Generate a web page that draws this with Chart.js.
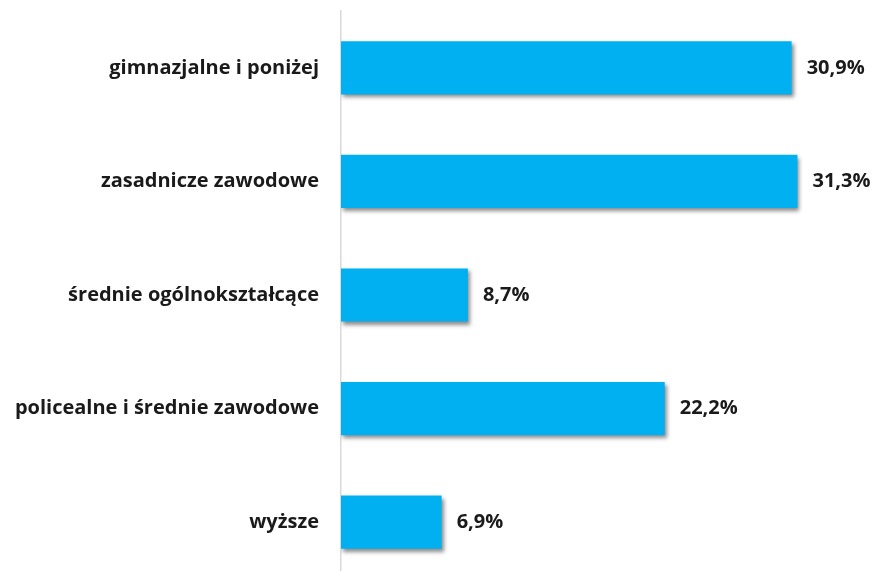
<!DOCTYPE html>
<html>
<head>
<meta charset="utf-8">
<script src="https://cdn.jsdelivr.net/npm/chart.js@4"></script>
<style>
  html, body { margin: 0; padding: 0; background: #ffffff; overflow: hidden; }
  #wrap { position: absolute; left: 0; top: 0; width: 875px; height: 579px; }
</style>
</head>
<body>
<div id="wrap"><canvas id="wykres"></canvas></div>
<script>
// Dane wykresu
const kategorie = [
  'gimnazjalne i poniżej',
  'zasadnicze zawodowe',
  'średnie ogólnokształcące',
  'policealne i średnie zawodowe',
  'wyższe'
];
const udzialy = [30.9, 31.3, 8.7, 22.2, 6.9];

const FONT = '"Open Sans", "Noto Sans", sans-serif';

// Cień pod słupkami
const cienPlugin = {
  id: 'cien',
  beforeDatasetsDraw(chart) {
    const ctx = chart.ctx;
    ctx.save();
    ctx.shadowColor = 'rgba(0,0,0,0.45)';
    ctx.shadowBlur = 4;
    ctx.shadowOffsetX = 2;
    ctx.shadowOffsetY = 3;
  },
  afterDatasetsDraw(chart) {
    chart.ctx.restore();
  }
};

// Etykiety wartości przy końcu słupków
const etykietyPlugin = {
  id: 'etykiety',
  afterDatasetsDraw(chart) {
    const ctx = chart.ctx;
    const meta = chart.getDatasetMeta(0);
    ctx.save();
    ctx.font = 'bold 20px ' + FONT;
    ctx.fillStyle = '#1a1a1a';
    ctx.textAlign = 'left';
    ctx.textBaseline = 'middle';
    meta.data.forEach((bar, i) => {
      const txt = udzialy[i].toFixed(1).replace('.', ',') + '%';
      ctx.fillText(txt, bar.x + 15, bar.y);
    });
    ctx.restore();
  }
};

new Chart(document.getElementById('wykres').getContext('2d'), {
  type: 'bar',
  data: {
    labels: kategorie,
    datasets: [{
      data: udzialy,
      backgroundColor: '#00B0F0',
      borderWidth: 0,
      barPercentage: 0.78,
      categoryPercentage: 0.6
    }]
  },
  options: {
    indexAxis: 'y',
    responsive: true,
    maintainAspectRatio: false,
    animation: false,
    layout: { padding: { top: 11, right: 9, bottom: 0, left: 0 } },
    plugins: {
      legend: { display: false },
      tooltip: { enabled: false }
    },
    scales: {
      x: {
        display: false,
        min: 0,
        max: 36
      },
      y: {
        afterFit(scale) {
          scale.width = 341;
          scale.paddingTop = 0;
          scale.paddingBottom = 0;
        },
        grid: { display: false, drawTicks: false },
        border: { display: true, color: '#d9d9d9', width: 1.5 },
        ticks: {
          padding: 22,
          color: '#1a1a1a',
          font: { family: FONT, size: 20, weight: 'bold' }
        }
      }
    }
  },
  plugins: [cienPlugin, etykietyPlugin]
});
</script>
</body>
</html>
